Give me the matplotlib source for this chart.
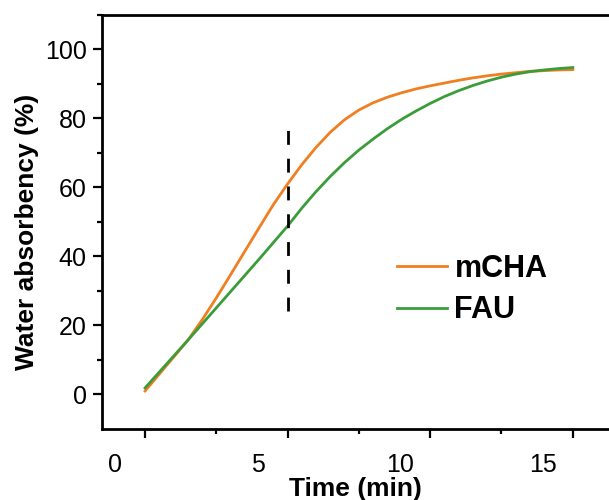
#!/usr/bin/env python3
"""Water absorbency of mCHA vs FAU over time"""
import matplotlib
matplotlib.use('Agg')
import matplotlib.pyplot as plt
from matplotlib.transforms import ScaledTranslation

plt.rcParams['font.family'] = ['Liberation Sans', 'DejaVu Sans']

# data
time_min = [0, 0.5, 1, 1.5, 2, 2.5, 3, 3.5, 4, 4.5, 5, 5.5, 6, 6.5, 7, 7.5,
            8, 8.5, 9, 9.5, 10, 10.5, 11, 11.5, 12, 12.5, 13, 13.5, 14,
            14.5, 15]
mcha = [1.0, 5.9, 10.8, 15.7, 21.6, 28.0, 34.7, 41.5, 48.3, 55.0, 61.0,
        66.6, 71.6, 76.0, 79.6, 82.4, 84.5, 86.1, 87.4, 88.5, 89.4, 90.2,
        91.0, 91.7, 92.3, 92.8, 93.2, 93.6, 93.8, 94.0, 94.1]
fau = [1.9, 6.5, 11.1, 15.7, 20.4, 25.1, 29.8, 34.5, 39.2, 44.0, 48.8,
       54.0, 58.8, 63.2, 67.2, 70.8, 74.0, 77.0, 79.7, 82.1, 84.3, 86.3,
       88.0, 89.5, 90.8, 91.9, 92.8, 93.5, 94.0, 94.4, 94.7]
mark_time = 5
mark_low, mark_high = 24.2, 77.5
x_ticks = [0, 5, 10, 15]
y_ticks = [0, 20, 40, 60, 80, 100]

fig = plt.figure(figsize=(6.09, 5.00), dpi=100)
ax = fig.add_axes([0.1675, 0.142, 0.8325, 0.8286])

ax.plot(time_min, mcha, color='#F07F22', lw=2, label='mCHA')
ax.plot(time_min, fau, color='#3A9D3A', lw=2, label='FAU')
ax.vlines(mark_time, mark_low, mark_high, colors='k', lw=2,
          linestyles=(0, (5, 5)))

ax.set_xlim(-1.51, 16.27)
ax.set_ylim(-10, 110)
ax.set_xticks(x_ticks)
ax.set_xticks([t + 2.5 for t in x_ticks[:-1]], minor=True)
ax.set_yticks(y_ticks)
ax.set_yticks([t + 10 for t in y_ticks], minor=True)

for side in ['left', 'bottom', 'top']:
    ax.spines[side].set_linewidth(2)
ax.spines['right'].set_visible(False)

ax.tick_params(which='major', length=6.5, width=1.6, labelsize=18)
ax.tick_params(which='minor', length=3.5, width=1.6)
ax.tick_params(axis='x', which='major', pad=11)
ax.tick_params(axis='y', which='major', pad=4.5)

# tick labels sit left of their ticks in the reference
shift = ScaledTranslation(-30 / 100, 0, fig.dpi_scale_trans)
for lab in ax.get_xticklabels():
    lab.set_transform(lab.get_transform() + shift)

ax.set_xlabel('Time (min)', fontsize=19, fontweight='bold', labelpad=0)
ax.set_ylabel('Water absorbency (%)', fontsize=19, fontweight='bold')
ax.yaxis.set_label_coords(-0.125, 0.476)

ax.legend(loc='upper left', bbox_to_anchor=(396.7 / 609, 1 - 254 / 500),
          bbox_transform=fig.transFigure, frameon=False, borderpad=0,
          borderaxespad=0, handlelength=1.63, handletextpad=0.26,
          labelspacing=0.37, prop={'size': 22, 'weight': 'bold'})

fig.savefig('out.png', dpi=100)
plt.close(fig)
